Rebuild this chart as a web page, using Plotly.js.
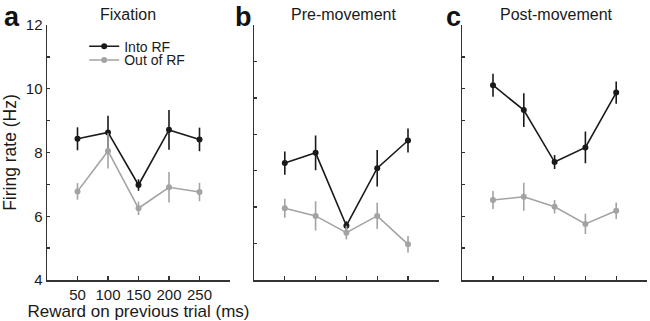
<!DOCTYPE html>
<html>
<head>
<meta charset="utf-8">
<script src="https://cdn.plot.ly/plotly-3.0.1.min.js"></script>
<style>html,body{margin:0;padding:0;background:#fff;}#chart{width:650px;height:321px;}</style>
</head>
<body>
<div id="chart"></div>
<script>
// Data
const rewards = [50, 100, 150, 200, 250];
const tickLabels = ['50', '100', '150', '200', '250'];
const seriesNames = ['Into RF', 'Out of RF'];
const panelTitles = ['Fixation', 'Pre-movement', 'Post-movement'];
const panelLetters = ['a', 'b', 'c'];

// Panel a: Fixation
const fixIn = [8.43, 8.63, 6.98, 8.71, 8.41];
const fixInErr = [0.36, 0.52, 0.18, 0.62, 0.37];
const fixOut = [6.78, 8.05, 6.25, 6.91, 6.76];
const fixOutErr = [0.26, 0.55, 0.21, 0.48, 0.29];

// Panel b: Pre-movement
const preIn = [7.21, 7.49, 5.49, 7.07, 7.83];
const preInErr = [0.32, 0.48, 0.12, 0.50, 0.33];
const preOut = [5.97, 5.76, 5.30, 5.76, 4.98];
const preOutErr = [0.26, 0.40, 0.19, 0.36, 0.23];

// Panel c: Post-movement
const postIn = [10.11, 9.33, 7.70, 8.16, 9.88];
const postInErr = [0.36, 0.53, 0.22, 0.50, 0.35];
const postOut = [6.51, 6.61, 6.30, 5.76, 6.17];
const postOutErr = [0.28, 0.44, 0.21, 0.32, 0.26];

const blackC = '#1a1a1a';
const grayC = '#a3a3a3';
const font = 'Liberation Sans, Arial, Helvetica, sans-serif';

function tr(y, err, color, name, xa, ya, show, leg) {
  const t = {
    x: rewards, y: y, type: 'scatter', mode: 'lines+markers', name: name,
    xaxis: xa, yaxis: ya, showlegend: show,
    line: {color: color, width: 1.6},
    marker: {color: color, size: 6},
    error_y: {type: 'data', array: err, visible: true, color: color, thickness: 1.6, width: 0}
  };
  if (leg) t.legend = leg;
  return t;
}

const data = [
  tr(fixIn, fixInErr, blackC, seriesNames[0], 'x', 'y', true, 'legend'),
  tr(fixOut, fixOutErr, grayC, seriesNames[1], 'x', 'y', true, 'legend2'),
  tr(preIn, preInErr, blackC, seriesNames[0], 'x2', 'y2', false),
  tr(preOut, preOutErr, grayC, seriesNames[1], 'x2', 'y2', false),
  tr(postIn, postInErr, blackC, seriesNames[0], 'x3', 'y3', false),
  tr(postOut, postOutErr, grayC, seriesNames[1], 'x3', 'y3', false)
];

function xaxis(domain, anchor, labels, title) {
  const ax = {
    domain: domain, anchor: anchor, range: [0, 300],
    tickvals: rewards, ticktext: labels ? tickLabels : rewards.map(() => ''),
    ticks: 'inside', ticklen: 4, tickwidth: 1.3, tickcolor: '#333',
    showline: true, linecolor: '#333', linewidth: 1.5,
    showgrid: false, zeroline: false,
    tickfont: {family: font, size: 15, color: '#1a1a1a'}
  };
  if (title) ax.title = {text: title, font: {family: font, size: 17, color: '#1a1a1a'}, standoff: 2};
  return ax;
}
function yaxis(anchor, range, labels, title) {
  const vals = [];
  for (let v = range[0]; v <= range[1]; v++) vals.push(v);
  const ax = {
    anchor: anchor, domain: [0, 1], range: range,
    tickvals: vals, ticktext: vals.map(v => (labels && v % 2 === 0) ? String(v) : ''),
    ticks: 'inside', ticklen: 3, tickwidth: 1.3, tickcolor: '#333',
    showline: true, linecolor: '#333', linewidth: 1.5,
    showgrid: false, zeroline: false,
    tickfont: {family: font, size: 15, color: '#1a1a1a'}
  };
  if (title) ax.title = {text: title, font: {family: font, size: 17.5, color: '#1a1a1a'}, standoff: 4};
  return ax;
}

const legendBase = {xanchor: 'left', yanchor: 'top', bgcolor: 'rgba(0,0,0,0)',
  font: {family: font, size: 14, color: '#1a1a1a'}, itemwidth: 30, tracegroupgap: 0};

const layout = {
  width: 650, height: 321,
  margin: {l: 47, r: 3, t: 25, b: 41},
  paper_bgcolor: '#fff', plot_bgcolor: '#fff',
  font: {family: font, color: '#1a1a1a'},
  showlegend: true,
  legend: Object.assign({x: 0.062, y: 0.978}, legendBase),
  legend2: Object.assign({x: 0.062, y: 0.924}, legendBase),
  xaxis: xaxis([0, 0.305], 'y', true, 'Reward on previous trial (ms)'),
  yaxis: yaxis('x', [4, 12], true, 'Firing rate (Hz)'),
  xaxis2: xaxis([0.345, 0.653], 'y2', false, null),
  yaxis2: yaxis('x2', [4, 11], false, null),
  xaxis3: xaxis([0.692, 1.0], 'y3', false, null),
  yaxis3: yaxis('x3', [4, 12], false, null),
  annotations: []
};

const titleX = [128, 343, 556];
const letterX = [12, 243, 453];
for (let i = 0; i < 3; i++) {
  layout.annotations.push({
    text: panelTitles[i], xref: 'paper', yref: 'paper',
    x: (titleX[i] - 47) / 600, y: (321 - 41 - 15) / 255, xanchor: 'center', yanchor: 'middle',
    showarrow: false, font: {family: font, size: 16, color: '#1a1a1a'}
  });
  layout.annotations.push({
    text: '<b>' + panelLetters[i] + '</b>', xref: 'paper', yref: 'paper',
    x: (letterX[i] - 47) / 600, y: (321 - 41 - 17) / 255, xanchor: 'center', yanchor: 'middle',
    showarrow: false, font: {family: font, size: 27, color: '#111'}
  });
}

Plotly.newPlot('chart', data, layout, {staticPlot: true, displayModeBar: false});
</script>
</body>
</html>
